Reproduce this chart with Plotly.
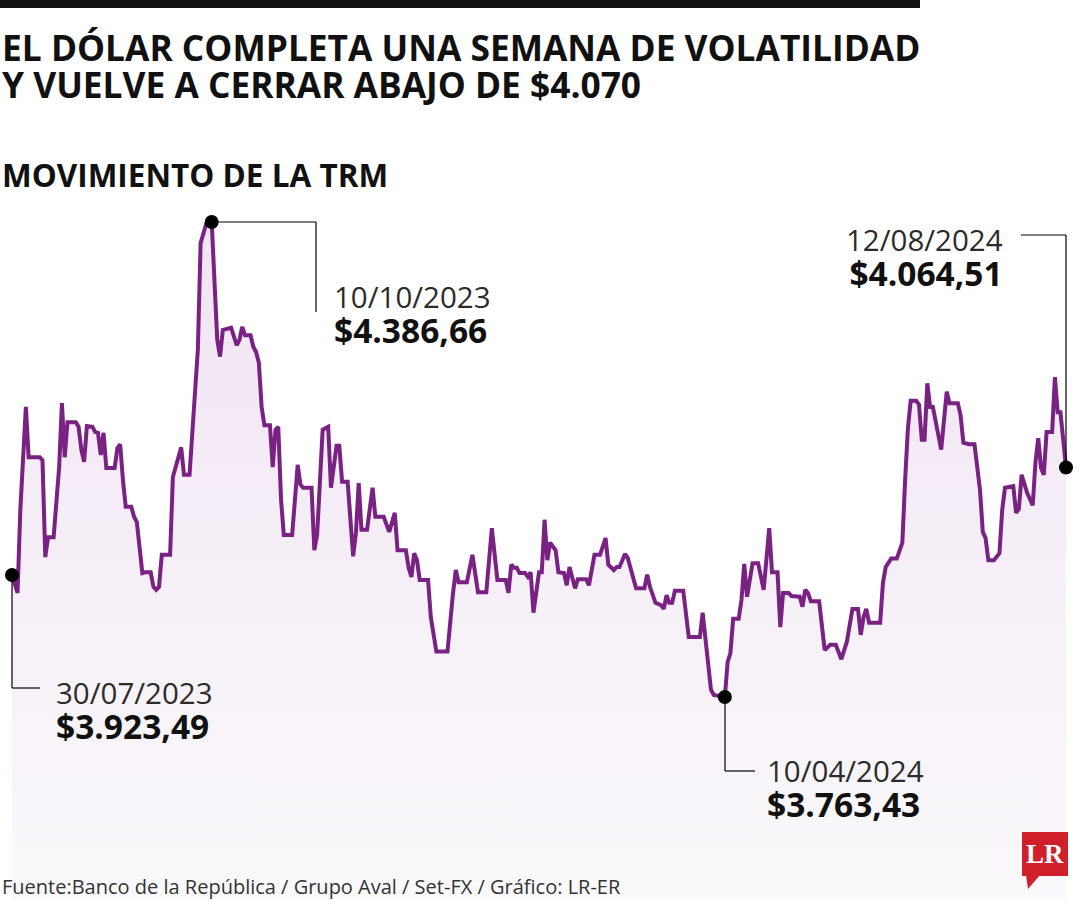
import pandas as pd
import plotly.graph_objects as go

# TRM (pesos per dollar); days counted from 30/07/2023
start_date = "2023-07-30"
day = [
    0, 2, 3, 5, 6, 10, 11, 12, 13, 15,
    17, 18, 19, 20, 23, 24, 25, 26, 27, 29,
    30, 31, 32, 33, 34, 37, 38, 39, 40, 41,
    43, 44, 45, 46, 47, 48, 50, 51, 52, 53,
    54, 57, 58, 61, 62, 64, 66, 67, 68, 70,
    72, 73, 74, 75, 76, 79, 81, 82, 83, 84,
    86, 87, 88, 89, 90, 91, 93, 94, 95, 96,
    97, 98, 101, 103, 104, 105, 108, 109, 110, 112,
    114, 115, 117, 118, 119, 121, 123, 124, 125, 126,
    128, 130, 131, 134, 136, 138, 139, 142, 143, 144,
    145, 146, 147, 150, 151, 153, 157, 159, 160, 161,
    164, 166, 168, 171, 173, 175, 178, 179, 180, 181,
    182, 183, 185, 186, 187, 188, 190, 191, 192, 193,
    194, 196, 197, 199, 200, 201, 203, 204, 207, 208,
    209, 210, 212, 214, 215, 217, 218, 219, 221, 222,
    225, 228, 229, 230, 232, 234, 235, 236, 237, 238,
    239, 242, 244, 248, 249, 250, 252, 253, 257, 258,
    259, 260, 262, 263, 264, 265, 267, 269, 271, 273,
    274, 276, 277, 278, 280, 281, 284, 285, 286, 287,
    288, 291, 293, 295, 297, 299, 301, 303, 305, 306,
    307, 308, 309, 313, 314, 315, 317, 319, 321, 322,
    323, 324, 326, 327, 328, 329, 330, 331, 332, 335,
    337, 338, 341, 342, 343, 345, 347, 349, 350, 351,
    352, 354, 356, 357, 358, 361, 362, 363, 364, 366,
    368, 369, 370, 371, 372, 373, 375, 376, 377, 378,
    380,
]
trm = [
    3923.49, 3900, 4009, 4144, 4078, 4078, 4074, 3947, 3973, 3973,
    4065, 4149, 4078, 4124, 4124, 4118, 4088, 4072, 4119, 4118,
    4111, 4110, 4081, 4110, 4064, 4064, 4090, 4095, 4048, 4013,
    4013, 4000, 3993, 3956, 3926, 3927, 3927, 3908, 3904, 3908,
    3950, 3950, 4052, 4091, 4055, 4055, 4153, 4219, 4359, 4384,
    4386.66, 4320, 4232, 4210, 4245, 4248, 4225, 4232, 4249, 4238,
    4238, 4223, 4216, 4202, 4144, 4120, 4120, 4065, 4114, 4118,
    4022, 3976, 3976, 4068, 4042, 4038, 4038, 3956, 3976, 4114,
    4118, 4038, 4093, 4093, 4046, 4046, 3948, 3979, 4044, 3983,
    3983, 4038, 4000, 4000, 3980, 4005, 3956, 3956, 3933, 3921,
    3952, 3943, 3917, 3917, 3868, 3823, 3823, 3900, 3930, 3914,
    3914, 3950, 3901, 3901, 3985, 3917, 3917, 3900, 3937, 3933,
    3933, 3926, 3926, 3921, 3927, 3874, 3927, 3927, 3996, 3943,
    3966, 3956, 3927, 3926, 3910, 3934, 3906, 3918, 3918, 3910,
    3931, 3950, 3950, 3972, 3937, 3930, 3934, 3934, 3951, 3946,
    3906, 3906, 3924, 3908, 3887, 3884, 3879, 3897, 3887, 3887,
    3903, 3903, 3842, 3842, 3874, 3842, 3773, 3766, 3763.43, 3809,
    3821, 3866, 3866, 3891, 3938, 3895, 3939, 3939, 3904, 3985,
    3927, 3927, 3855, 3900, 3900, 3896, 3895, 3882, 3904, 3900,
    3889, 3889, 3825, 3832, 3832, 3813, 3836, 3879, 3879, 3845,
    3868, 3879, 3861, 3861, 3913, 3934, 3945, 3945, 3966, 4048,
    4116, 4152, 4152, 4147, 4101, 4101, 4175, 4144, 4144, 4088,
    4164, 4149, 4149, 4133, 4097, 4095, 4095, 4035, 3980, 3972,
    3943, 3943, 3952, 4009, 4038, 4040, 4005, 4010, 4055, 4031,
    4015, 4072, 4103, 4064, 4055, 4111, 4111, 4183, 4137, 4137,
    4064.51,
]

# highlighted points
marks_day = [0, 72, 257, 380]
marks_date = ["30/07/2023", "10/10/2023", "10/04/2024", "12/08/2024"]
marks_value = ["$3.923,49", "$4.386,66", "$3.763,43", "$4.064,51"]

W, H = 1080, 900
t0 = pd.Timestamp(start_date)
dates = t0 + pd.to_timedelta(day, unit="D")
lookup = dict(zip(day, trm))
mark_x = [t0 + pd.Timedelta(days=d) for d in marks_day]
mark_y = [lookup[d] for d in marks_day]

# axis ranges chosen so the series spans x=12..1066 px and 4386.66 sits at y=222 px
px_per_day = 1054 / 380
x_range = [t0 - pd.Timedelta(days=12 / px_per_day), t0 + pd.Timedelta(days=(W - 12) / px_per_day)]
px_per_peso = 475 / (4386.66 - 3763.43)
y_top = 4386.66 + 222 / px_per_peso
y_range = [y_top - H / px_per_peso, y_top]


def px(x):
    return x / W


def py(y):
    return 1 - y / H


LINE = "#7a2283"
FONT = "Open Sans"

fig = go.Figure()
fig.add_trace(go.Scatter(
    x=dates, y=trm, mode="lines",
    line=dict(color=LINE, width=4),
    fill="tozeroy",
    fillgradient=dict(type="vertical", start=y_range[0], stop=4386.66,
                      colorscale=[[0, "#faf9fb"], [1, "#f1e4f3"]]),
    hoverinfo="skip",
))
fig.add_trace(go.Scatter(
    x=mark_x, y=mark_y, mode="markers",
    marker=dict(color="black", size=14),
    hoverinfo="skip",
))

# leader lines from each dot to its label (pixel paths)
leaders = [
    [(12, 575), (12, 688), (40, 688)],
    [(213, 222), (316, 222), (316, 312)],
    [(725, 697), (725, 771), (755, 771)],
    [(1066, 467), (1066, 235), (1021, 235)],
]
shapes = [dict(type="rect", xref="paper", yref="paper", x0=0, x1=px(920),
               y0=py(8), y1=1, fillcolor="#111", line=dict(width=0))]
for pts in leaders:
    for (xa, ya), (xb, yb) in zip(pts[:-1], pts[1:]):
        shapes.append(dict(type="line", xref="paper", yref="paper",
                           x0=px(xa), y0=py(ya), x1=px(xb), y1=py(yb),
                           line=dict(color="black", width=1.2)))

# LR logo
shapes.append(dict(type="rect", xref="paper", yref="paper", x0=px(1022), x1=px(1068),
                   y0=py(876), y1=py(832), fillcolor="#cf1f2b", line=dict(width=0)))
shapes.append(dict(type="path", xref="paper", yref="paper",
                   path=f"M {px(1026)},{py(875)} L {px(1040)},{py(875)} L {px(1028)},{py(889)} Z",
                   fillcolor="#cf1f2b", line=dict(width=0)))


def note(x, y, text, size, color="#111", anchor="left", family=FONT):
    return dict(xref="paper", yref="paper", x=px(x), y=py(y), text=text,
                xanchor=anchor, yanchor="middle", align=anchor, showarrow=False,
                font=dict(family=family, size=size, color=color))


label_pos = [  # (x px, anchor, centre y of the two-line block)
    (54, "left", 710),
    (332, "left", 314.5),
    (765, "left", 788),
    (1005, "right", 258),
]
annotations = []
for (x, anc, yc), d, v in zip(label_pos, marks_date, marks_value):
    text = (f"<span style='font-size:29.5px;color:#2b2b2b'>{d}</span><br>"
            f"<span style='font-size:33.5px'><b>{v}</b></span>")
    annotations.append(note(x, yc, text, 27, "#111", anc))

title = ("<span style='font-size:35.3px'><b>EL DÓLAR COMPLETA UNA SEMANA DE VOLATILIDAD</b></span><br>"
         "<span style='font-size:35.3px'><b>Y VUELVE A CERRAR ABAJO DE $4.070</b></span>")
annotations += [
    note(0, 65.5, title, 28.5),
    note(0, 174, "<b>MOVIMIENTO DE LA TRM</b>", 31.5),
    note(0, 886, "Fuente:Banco de la República / Grupo Aval / Set-FX / Gráfico: LR-ER", 20, "#333"),
    note(1045, 854, "<b>LR</b>", 27, "white", "center", "Liberation Serif"),
]

fig.update_layout(
    width=W, height=H,
    margin=dict(l=0, r=0, t=0, b=0),
    paper_bgcolor="white", plot_bgcolor="white",
    showlegend=False,
    xaxis=dict(visible=False, range=x_range),
    yaxis=dict(visible=False, range=y_range),
    shapes=shapes,
    annotations=annotations,
)
fig.write_html("out.html", config={"displayModeBar": False},
               post_script="document.body.style.margin='0';")
